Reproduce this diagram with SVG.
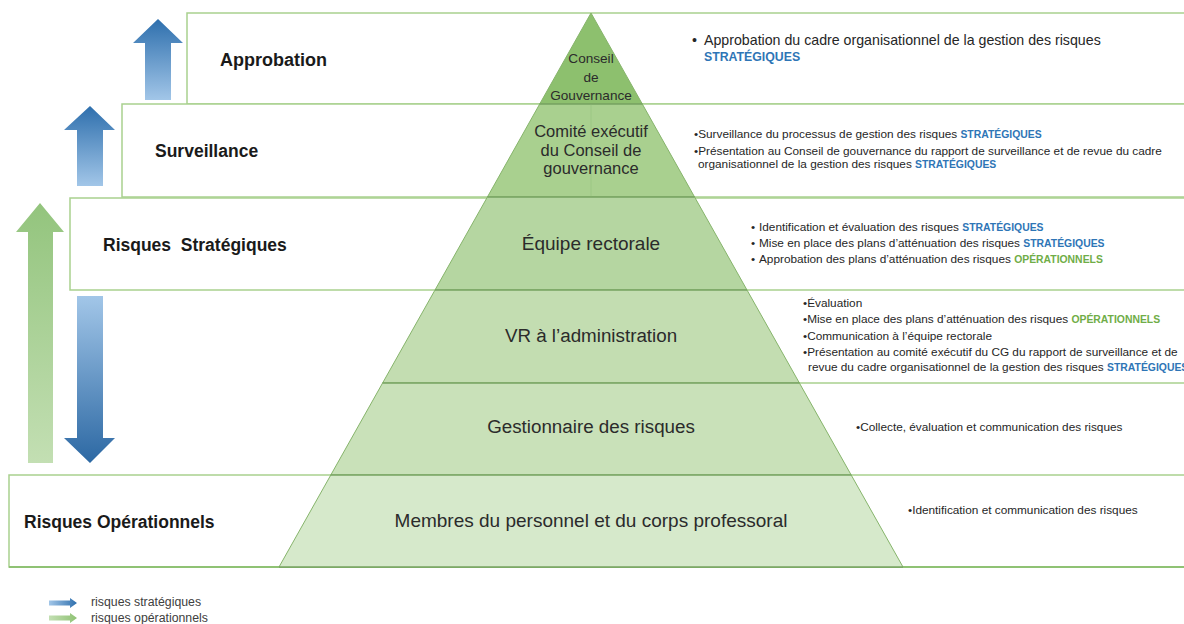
<svg xmlns="http://www.w3.org/2000/svg" width="1184" height="624" viewBox="0 0 1184 624">
<style>
.band{fill:#ffffff;stroke:#a9d18e;stroke-width:1.5}
.lbl{font-family:"Liberation Sans",Arial,sans-serif;font-weight:bold;font-size:17.5px;fill:#1a1a1a}
.pt{font-family:"Liberation Sans",Arial,sans-serif;font-size:18.8px;fill:#2b2b2b;text-anchor:middle}
.sm{font-family:"Liberation Sans",Arial,sans-serif;font-size:11.8px;fill:#262626}
.md{font-family:"Liberation Sans",Arial,sans-serif;font-size:14.2px;fill:#262626}
.bs{font-weight:bold;font-size:10.4px;fill:#2e75b6}
.gs{font-weight:bold;font-size:10.4px;fill:#70ad47}
.lay{stroke:#86b46b;stroke-width:1}
.sep{stroke:#6f9a5c;stroke-width:1.2}
.lg{font-family:"Liberation Sans",Arial,sans-serif;font-size:12.3px;fill:#404040}
</style>
<defs>
<linearGradient id="bUp" x1="0" y1="0" x2="0" y2="1"><stop offset="0" stop-color="#2e6fad"/><stop offset="1" stop-color="#a2c6e8"/></linearGradient>
<linearGradient id="bDown" x1="0" y1="0" x2="0" y2="1"><stop offset="0" stop-color="#a2c6e8"/><stop offset="1" stop-color="#2c68a3"/></linearGradient>
<linearGradient id="gUp" x1="0" y1="0" x2="0" y2="1"><stop offset="0" stop-color="#93c47d"/><stop offset="1" stop-color="#c3dfb3"/></linearGradient>
<linearGradient id="bRight" x1="0" y1="0" x2="1" y2="0"><stop offset="0" stop-color="#a2c6e8"/><stop offset="1" stop-color="#2e6fad"/></linearGradient>
<linearGradient id="gRight" x1="0" y1="0" x2="1" y2="0"><stop offset="0" stop-color="#c3dfb3"/><stop offset="1" stop-color="#8fc274"/></linearGradient>
</defs>

<g id="bands">
<rect class="band" x="187" y="13" width="1010" height="91"/>
<rect class="band" x="122" y="104" width="1075" height="93"/>
<rect class="band" x="70" y="198" width="1127" height="92"/>
<line x1="799" y1="383" x2="1184" y2="383" stroke="#a9d18e" stroke-width="1.5"/>
<rect class="band" x="9" y="475" width="1190" height="92"/>
<line x1="9" y1="567" x2="1184" y2="567" stroke="#8fc274" stroke-width="1.8"/>
</g>

<g id="label-approbation"><text class="lbl" x="220" y="66" style="font-size:18px">Approbation</text></g>
<g id="label-surveillance"><text class="lbl" x="155" y="157">Surveillance</text></g>
<g id="label-strategiques"><text class="lbl" x="103" y="251" xml:space="preserve">Risques  Stratégiques</text></g>
<g id="label-operationnels"><text class="lbl" x="24" y="528">Risques Opérationnels</text></g>

<g id="layer-conseil">
<polygon class="lay" points="591,13 642.3,104 539.7,104" fill="#8dc06e"/>
<text class="pt" x="591" y="63" style="font-size:13.6px">Conseil</text>
<text class="pt" x="591" y="82" style="font-size:13.6px">de</text>
<text class="pt" x="591" y="100" style="font-size:13.6px">Gouvernance</text>
</g>
<g id="layer-comite">
<polygon class="lay" points="539.7,104 642.3,104 694.6,197 487.4,197" fill="#a9d08f"/>
<line x1="591" y1="104" x2="591" y2="197" stroke="#9cc784" stroke-width="1"/>
<text class="pt" x="591" y="137" style="font-size:16.5px">Comité exécutif</text>
<text class="pt" x="591" y="155.5" style="font-size:16.5px">du Conseil de</text>
<text class="pt" x="591" y="174" style="font-size:16.5px">gouvernance</text>
</g>
<g id="layer-equipe">
<polygon class="lay" points="487.4,197 694.6,197 747,290 435,290" fill="#b5d6a1"/>
<text class="pt" x="591" y="250" style="font-size:19px">Équipe rectorale</text>
</g>
<g id="layer-vr">
<polygon class="lay" points="435,290 747,290 799.4,383 382.6,383" fill="#c3ddb1"/>
<text class="pt" x="591" y="342">VR à l’administration</text>
</g>
<g id="layer-gestionnaire">
<polygon class="lay" points="382.6,383 799.4,383 851.2,475 330.8,475" fill="#c9e1b9"/>
<text class="pt" x="591" y="433">Gestionnaire des risques</text>
</g>
<g id="layer-membres">
<polygon class="lay" points="330.8,475 851.2,475 903,567 279,567" fill="#d6e9cb"/>
<text class="pt" x="591" y="527" style="font-size:19px">Membres du personnel et du corps professoral</text>
</g>
<g id="separators">
<line class="sep" x1="539.7" y1="104" x2="642.3" y2="104"/>
<line class="sep" x1="487.4" y1="197" x2="694.6" y2="197"/>
<line class="sep" x1="435" y1="290" x2="747" y2="290"/>
<line class="sep" x1="382.6" y1="383" x2="799.4" y2="383"/>
<line class="sep" x1="330.8" y1="475" x2="851.2" y2="475"/>
<line class="sep" x1="279" y1="567" x2="903" y2="567"/>
</g>

<g id="desc-approbation">
<text class="md" x="692" y="45">•<tspan x="704">Approbation du cadre organisationnel de la gestion des risques</tspan></text>
<text class="md" x="704" y="61"><tspan class="bs" style="font-size:12.3px">STRATÉGIQUES</tspan></text>
</g>
<g id="desc-surveillance">
<text class="sm" x="694" y="138">•Surveillance du processus de gestion des risques <tspan class="bs">STRATÉGIQUES</tspan></text>
<text class="sm" x="694" y="155">•Présentation au Conseil de gouvernance du rapport de surveillance et de revue du cadre</text>
<text class="sm" x="698" y="168">organisationnel de la gestion des risques <tspan class="bs">STRATÉGIQUES</tspan></text>
</g>
<g id="desc-strategiques">
<text class="sm" x="751" y="231">•<tspan x="759">Identification et évaluation des risques </tspan><tspan class="bs">STRATÉGIQUES</tspan></text>
<text class="sm" x="751" y="247">•<tspan x="759">Mise en place des plans d’atténuation des risques </tspan><tspan class="bs">STRATÉGIQUES</tspan></text>
<text class="sm" x="751" y="263">•<tspan x="759">Approbation des plans d’atténuation des risques </tspan><tspan class="gs">OPÉRATIONNELS</tspan></text>
</g>
<g id="desc-vr">
<text class="sm" x="803" y="307">•Évaluation</text>
<text class="sm" x="803" y="323">•Mise en place des plans d’atténuation des risques <tspan class="gs">OPÉRATIONNELS</tspan></text>
<text class="sm" x="803" y="340">•Communication à l’équipe rectorale</text>
<text class="sm" x="803" y="356">•Présentation au comité exécutif du CG du rapport de surveillance et de</text>
<text class="sm" x="808" y="371">revue du cadre organisationnel de la gestion des risques <tspan class="bs">STRATÉGIQUES</tspan></text>
</g>
<g id="desc-gestionnaire">
<text class="sm" x="856" y="431">•Collecte, évaluation et communication des risques</text>
</g>
<g id="desc-membres">
<text class="sm" x="908" y="514">•Identification et communication des risques</text>
</g>

<g id="connectors">
<polygon points="158,19 183,43 171,43 171,100 145,100 145,43 133,43" fill="url(#bUp)"/>
<polygon points="90,106 115,130 103,130 103,186 77,186 77,130 64,130" fill="url(#bUp)"/>
<polygon points="40,203 64,232 53,232 53,463 28,463 28,232 16,232" fill="url(#gUp)"/>
<polygon points="77,296 103,296 103,438 115,438 90,463 64,438 77,438" fill="url(#bDown)"/>
</g>

<g id="legend">
<polygon points="49,600.5 70,600.5 70,598 77,603 70,608 70,605.5 49,605.5" fill="url(#bRight)"/>
<text class="lg" x="91" y="606">risques stratégiques</text>
<polygon points="49,615.5 70,615.5 70,613 77,618 70,623 70,620.5 49,620.5" fill="url(#gRight)"/>
<text class="lg" x="91" y="622">risques opérationnels</text>
</g>
</svg>
